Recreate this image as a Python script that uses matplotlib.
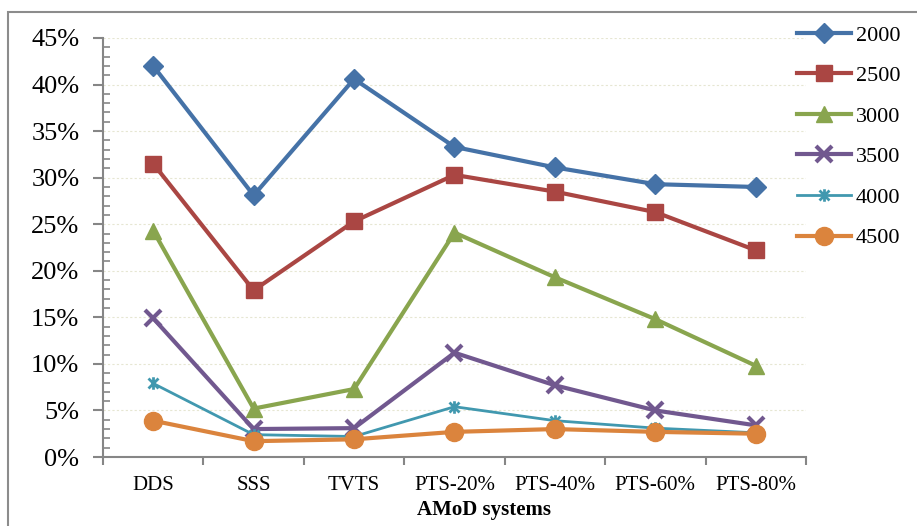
import matplotlib
matplotlib.use("Agg")
import matplotlib.pyplot as plt
from matplotlib.patches import Rectangle
from matplotlib.path import Path
from matplotlib.ticker import MultipleLocator, PercentFormatter

categories = ["DDS", "SSS", "TVTS", "PTS-20%", "PTS-40%", "PTS-60%", "PTS-80%"]
series_names = ["2000", "2500", "3000", "3500", "4000", "4500"]
s2000 = [42.0, 28.1, 40.6, 33.3, 31.1, 29.3, 29.0]
s2500 = [31.5, 17.9, 25.3, 30.3, 28.5, 26.3, 22.2]
s3000 = [24.3, 5.2, 7.3, 24.1, 19.3, 14.8, 9.8]
s3500 = [14.9, 3.0, 3.1, 11.2, 7.7, 5.0, 3.4]
s4000 = [7.9, 2.4, 2.2, 5.4, 3.9, 3.1, 2.6]
s4500 = [3.9, 1.7, 1.9, 2.7, 3.0, 2.7, 2.5]
series = [s2000, s2500, s3000, s3500, s4000, s4500]

star = Path([(0, -1), (0, 1), (-0.8, -0.8), (0.8, 0.8), (-0.8, 0.8), (0.8, -0.8)],
            [Path.MOVETO, Path.LINETO, Path.MOVETO, Path.LINETO, Path.MOVETO, Path.LINETO])

colors = ["#4572A7", "#AA4643", "#89A54E", "#71588F", "#4198AF", "#DB843D"]
markers = ["D", "s", "^", "x", star, "o"]
msizes = [10, 11, 12, 11, 9, 13]
lws = [3, 3, 3, 3, 2, 3]
mews = [1, 1, 1, 3, 2, 1]

plt.rcParams['font.family'] = ['Liberation Serif', 'DejaVu Serif']

fig = plt.figure(figsize=(9.17, 5.26), dpi=100)
ax = fig.add_axes([103/917, 1-457/526, (806-103)/917, (457-38)/526])

x = list(range(len(categories)))
for name, vals, c, m, ms, lw, mew in zip(series_names, series, colors, markers, msizes, lws, mews):
    if isinstance(m, Path) or m == "x":
        ax.plot(x, vals, color=c, lw=lw, marker=m, ms=ms, mec=c, mew=mew, label=name)
    else:
        ax.plot(x, vals, color=c, lw=lw, marker=m, ms=ms, mec=c, mfc=c, label=name)

ax.set_xlim(-0.5, len(categories) - 0.5)
ax.set_ylim(0, 45)
ax.yaxis.set_major_locator(MultipleLocator(5))
ax.yaxis.set_minor_locator(MultipleLocator(1))
ax.yaxis.set_major_formatter(PercentFormatter(decimals=0))
ax.set_xticks(x)
ax.set_xticklabels(categories, fontsize=15)
ax.set_xticks([i - 0.5 for i in range(len(categories) + 1)], minor=True)
ax.tick_params(axis='x', which='major', length=0, pad=14)
ax.tick_params(axis='x', which='minor', length=6, width=1.5, color="#868686", direction='out')
ax.tick_params(axis='y', which='major', length=7, width=1.5, color="#868686", direction='out', labelsize=19, pad=10)
ax.tick_params(axis='y', which='minor', length=5, width=1.2, color="#868686", direction='in')

ax.grid(axis='y', which='major', color="#e6e6d2", lw=0.8, ls=(0, (2, 2)))
ax.set_axisbelow(True)
for sp in ("top", "right"):
    ax.spines[sp].set_visible(False)
for sp in ("left", "bottom"):
    ax.spines[sp].set_color("#868686")
    ax.spines[sp].set_linewidth(1.5)

ax.set_xlabel("AMoD systems", fontsize=15, fontweight='bold')
ax.xaxis.set_label_coords((484-103)/(806-103), -(510-457)/(457-38), transform=ax.transAxes)
ax.xaxis.label.set_va('center')

fig.legend(loc='upper left', bbox_to_anchor=(797/917, 1-25/526), frameon=False,
           fontsize=16, handlelength=2.45, handletextpad=0.2, labelspacing=0.9,
           borderpad=0, borderaxespad=0)

fig.patches.append(Rectangle((8/917, -0.1), 1.2, 1-12/526+0.1, transform=fig.transFigure,
                             fill=False, edgecolor="#8c8c8c", lw=1.5))

fig.savefig("out.png", dpi=100)
